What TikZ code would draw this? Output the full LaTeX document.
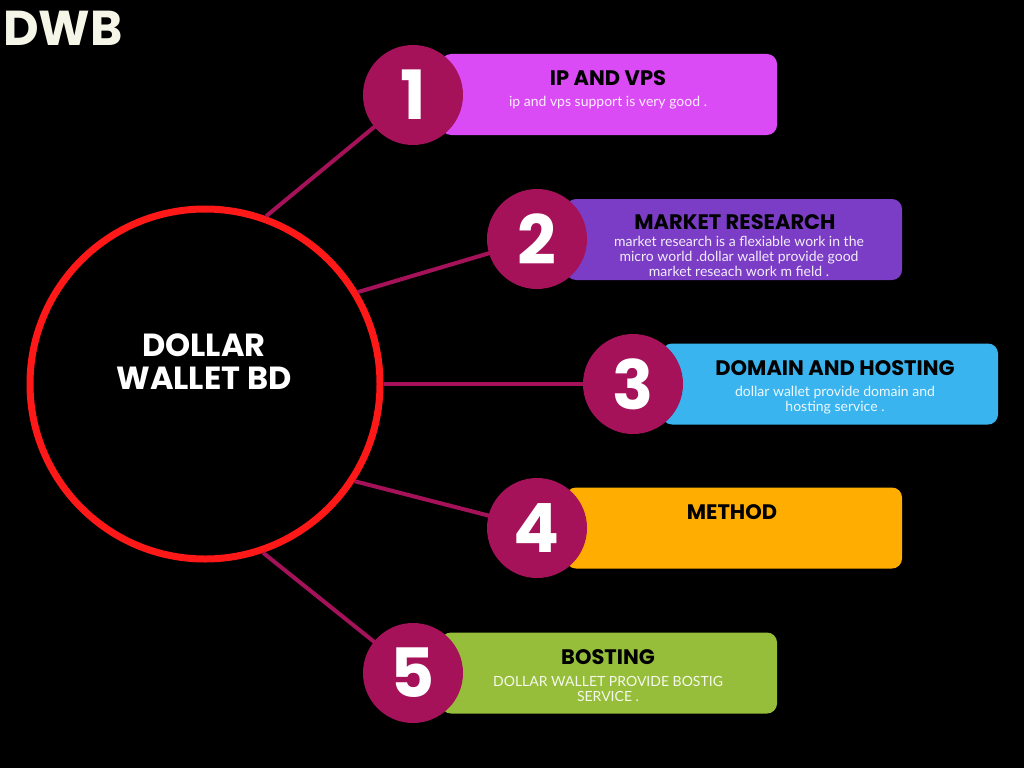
\documentclass[tikz,border=0pt]{standalone}
\usepackage{fontspec}
\setmainfont{Lato}
\newfontfamily\headfont{Poppins}
\usetikzlibrary{positioning}

\newlength{\du}
\setlength{\du}{1pt}

\definecolor{ringred}{RGB}{255,24,24}
\definecolor{plum}{RGB}{165,18,90}
\definecolor{cream}{RGB}{246,246,232}
\definecolor{boxone}{RGB}{218,75,245}
\definecolor{boxtwo}{RGB}{123,61,198}
\definecolor{boxthree}{RGB}{58,180,238}
\definecolor{boxfour}{RGB}{255,173,0}
\definecolor{boxfive}{RGB}{151,190,58}

\tikzset{
  hubring/.style={circle, draw=ringred, fill=black, line width=7\du, minimum size=350\du, inner sep=0pt},
  spoke/.style={draw=plum, line width=4\du},
  numdisc/.style={circle, fill=plum, minimum size=100\du, inner sep=0pt, text=white,
    font=\headfont\bfseries\fontsize{68}{68}\selectfont},
  infobox/.style={rounded corners=10\du, minimum width=336\du, minimum height=81\du, inner sep=0pt},
  boxtitle/.style={inner sep=0pt, text=black, font=\headfont\bfseries\fontsize{21}{22}\selectfont},
  boxtext/.style={inner sep=0pt, align=center, text=white, text opacity=0.9,
    font=\fontsize{14}{15}\selectfont},
}

\begin{document}
\begin{tikzpicture}[x=1\du, y=-1\du]
\fill[black] (0,0) rectangle (1024,768);
\useasboundingbox (0,0) rectangle (1024,768);
% logo
\node[anchor=west, inner sep=0pt, text=cream, font=\headfont\bfseries\fontsize{49}{49}\selectfont] (logo) at (3,28) {DWB};
% hub
\node[hubring] (hub) at (205,384) {};
\node[align=center, inner sep=0pt, text=white, font=\headfont\bfseries\fontsize{32}{33}\selectfont] (hubtext) at (204,362) {DOLLAR\\WALLET BD};
% spokes
\coordinate (c1) at (413,95);
\coordinate (c2) at (537,239);
\coordinate (c3) at (633,384);
\coordinate (c4) at (537,528);
\coordinate (c5) at (413,673);
\draw[spoke] (hub.70) -- (c1);
\draw[spoke] (hub.31) -- (c2);
\draw[spoke] (hub.0) -- (c3);
\draw[spoke] (hub.-33) -- (c4);
\draw[spoke] (hub.-71) -- (c5);
% boxes
\node[infobox, fill=boxone] (b1) at (609,94.5) {};
\node[infobox, fill=boxtwo] (b2) at (734,239.5) {};
\node[infobox, fill=boxthree] (b3) at (830,384) {};
\node[infobox, fill=boxfour] (b4) at (734,528) {};
\node[infobox, fill=boxfive] (b5) at (609,673) {};
% numbers
\node[numdisc] (n1) at (c1) {1};
\node[numdisc] (n2) at (c2) {2};
\node[numdisc] (n3) at (c3) {3};
\node[numdisc] (n4) at (c4) {4};
\node[numdisc] (n5) at (c5) {5};
% texts
\node[boxtitle] (t1) at (608,78) {IP AND VPS};
\node[boxtext] (s1) at (608,103) {ip and vps support is very good .};
\node[boxtitle] (t2) at (735,222) {MARKET RESEARCH};
\node[boxtext] (s2) at (739,256) {market research is a flexiable work in the\\micro world .dollar wallet provide good\\market reseach work m field .};
\node[boxtitle] (t3) at (835,368) {DOMAIN AND HOSTING};
\node[boxtext] (s3) at (835,400) {dollar wallet provide domain and\\hosting service .};
\node[boxtitle] (t4) at (732,512) {METHOD};
\node[boxtitle] (t5) at (608,657) {BOSTING};
\node[boxtext] (s5) at (608,689) {DOLLAR WALLET PROVIDE BOSTIG\\SERVICE .};
\end{tikzpicture}
\end{document}
